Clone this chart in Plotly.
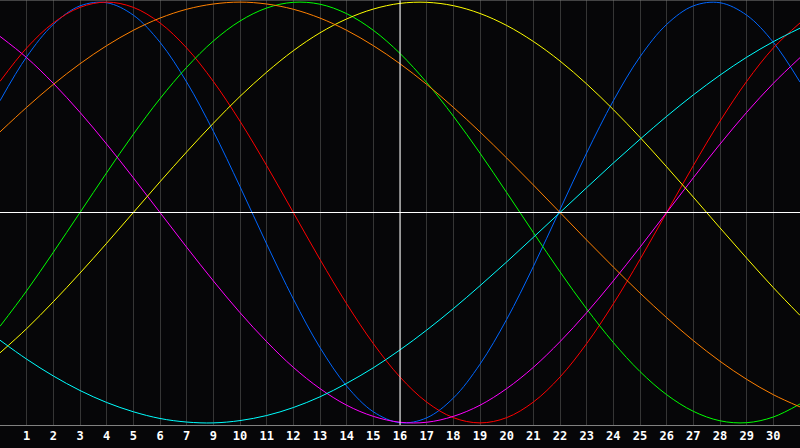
import plotly.graph_objects as go

# day positions across the chart
days = list(range(0, 31))
tick_pos = list(range(1, 30))
tick_text = ["1", "2", "3", "4", "5", "6", "7", "9", "10", "11", "12", "13", "14", "15", "16",
             "17", "18", "19", "20", "21", "22", "23", "24", "25", "26", "27", "28", "29", "30"]

# cycle values (one value per day)
blue = [0.531, 0.74, 0.894, 0.982, 0.997, 0.938, 0.809, 0.62, 0.386, 0.123, -0.15, -0.411, -0.642, -0.825,
        -0.947, -0.999, -0.976, -0.882, -0.721, -0.508, -0.257, 0.014, 0.283, 0.531, 0.74, 0.894, 0.982,
        0.997, 0.938, 0.809, 0.62]
red = [0.623, 0.782, 0.901, 0.975, 1.0, 0.975, 0.901, 0.782, 0.623, 0.434, 0.223, 0.0, -0.223, -0.434,
       -0.623, -0.782, -0.901, -0.975, -1.0, -0.975, -0.901, -0.782, -0.623, -0.434, -0.223, 0.0, 0.223,
       0.434, 0.623, 0.782, 0.901]
green = [-0.541, -0.372, -0.189, 0.0, 0.189, 0.372, 0.541, 0.69, 0.815, 0.91, 0.972, 0.999, 0.99, 0.945,
         0.866, 0.756, 0.618, 0.458, 0.282, 0.095, -0.095, -0.282, -0.458, -0.618, -0.756, -0.866, -0.945,
         -0.99, -0.999, -0.972, -0.91]
magenta = [0.837, 0.736, 0.614, 0.476, 0.325, 0.165, 0.0, -0.165, -0.325, -0.476, -0.614, -0.736, -0.837,
           -0.916, -0.969, -0.997, -0.997, -0.969, -0.916, -0.837, -0.736, -0.614, -0.476, -0.325, -0.165,
           0.0, 0.165, 0.325, 0.476, 0.614, 0.736]
yellow = [-0.667, -0.552, -0.424, -0.288, -0.146, 0.0, 0.146, 0.288, 0.424, 0.552, 0.667, 0.769, 0.854,
          0.92, 0.967, 0.994, 0.999, 0.983, 0.946, 0.889, 0.813, 0.72, 0.611, 0.489, 0.357, 0.217, 0.073,
          -0.073, -0.217, -0.357, -0.489]
orange = [0.383, 0.5, 0.609, 0.707, 0.793, 0.866, 0.924, 0.966, 0.991, 1.0, 0.991, 0.966, 0.924, 0.866,
          0.793, 0.707, 0.609, 0.5, 0.383, 0.259, 0.131, 0.0, -0.131, -0.259, -0.383, -0.5, -0.609, -0.707,
          -0.793, -0.866, -0.924]
cyan = [-0.607, -0.697, -0.777, -0.846, -0.903, -0.947, -0.979, -0.996, -1.0, -0.989, -0.965, -0.927,
        -0.876, -0.812, -0.738, -0.653, -0.559, -0.457, -0.348, -0.235, -0.118, 0.0, 0.118, 0.235, 0.348,
        0.457, 0.559, 0.653, 0.738, 0.812, 0.876]

series = [
    (blue, "#0066ff"),
    (red, "#ff0000"),
    (green, "#00ff00"),
    (magenta, "#ff00ff"),
    (yellow, "#ffff00"),
    (orange, "#ff8000"),
    (cyan, "#00ffff"),
]

fig = go.Figure()
for vals, c in series:
    fig.add_trace(go.Scatter(x=days, y=vals, mode="lines",
                             line=dict(color=c, width=1, shape="spline"), hoverinfo="skip"))

fig.update_layout(width=800, height=448, margin=dict(l=0, r=0, t=0, b=23),
                  paper_bgcolor="#060608", plot_bgcolor="#060608", showlegend=False)
fig.update_xaxes(range=[0, 30], tickvals=tick_pos, ticktext=tick_text, showgrid=True,
                 gridcolor="#353535", gridwidth=1, zeroline=False, showline=True, linecolor="#808080",
                 ticks="", tickangle=0,
                 tickfont=dict(color="white", size=12, family="DejaVu Sans Mono", weight="bold"))
fig.update_yaxes(range=[-1.01, 1.01], showgrid=False, zeroline=False, showticklabels=False,
                 showline=True, linecolor="#808080")
fig.add_shape(type="line", xref="x", yref="paper", x0=15, x1=15, y0=0, y1=1,
              line=dict(color="white", width=1), layer="above")
fig.add_shape(type="line", xref="paper", yref="y", x0=0, x1=1, y0=0, y1=0,
              line=dict(color="white", width=1), layer="above")
fig.add_shape(type="line", xref="paper", yref="paper", x0=0, x1=1, y0=1, y1=1,
              line=dict(color="#808080", width=1))
fig.write_html("out.html", config={"displayModeBar": False},
               post_script="document.body.style.margin='0';document.body.style.background='#060608';")
